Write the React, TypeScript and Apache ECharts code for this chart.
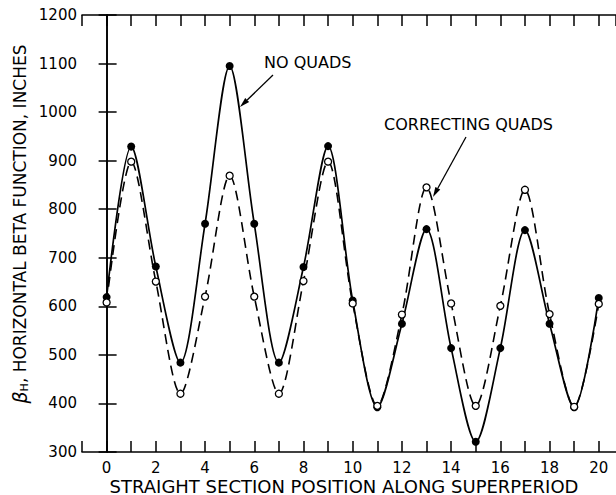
import React, { useEffect, useRef } from "react";
import * as echarts from "echarts";

const positions = [0, 1, 2, 3, 4, 5, 6, 7, 8, 9, 10, 11, 12, 13, 14, 15, 16, 17, 18, 19, 20];
const noQuads = [619, 929, 682, 484, 770, 1095, 770, 484, 681, 930, 612, 392, 564, 759, 514, 321, 514, 757, 564, 392, 617];
const correctingQuads = [608, 898, 651, 420, 620, 869, 620, 420, 652, 898, 606, 395, 583, 845, 606, 395, 601, 840, 584, 393, 605];
const yTicks = { min: 300, max: 1200, step: 100 };
const xLabelsEvery = 2;

const FONT = "DejaVu Sans";

function arrow(x1: number, y1: number, x2: number, y2: number) {
  const dx = x2 - x1;
  const dy = y2 - y1;
  const len = Math.sqrt(dx * dx + dy * dy);
  const ux = dx / len;
  const uy = dy / len;
  const hl = 10;
  const hw = 2.8;
  const bx = x2 - ux * hl;
  const by = y2 - uy * hl;
  const nx = -uy;
  const ny = ux;
  return [
    {
      type: "line",
      shape: { x1, y1, x2: bx, y2: by },
      style: { stroke: "#000", lineWidth: 1.3 },
    },
    {
      type: "polygon",
      shape: {
        points: [
          [x2, y2],
          [bx + nx * hw, by + ny * hw],
          [bx - nx * hw, by - ny * hw],
        ],
      },
      style: { fill: "#000" },
    },
  ];
}

export default function App() {
  const ref = useRef<HTMLDivElement>(null);
  useEffect(() => {
    if (!ref.current) return;
    const chart = echarts.init(ref.current, null, { renderer: "svg" });
    const noQuadsData = positions.map((x, i) => [x, noQuads[i]]);
    const corrData = positions.map((x, i) => [x, correctingQuads[i]]);
    const axisLine = { show: true, lineStyle: { color: "#000", width: 1.6 } };
    chart.setOption({
      animation: false,
      backgroundColor: "#fff",
      grid: { left: 82, right: -4, top: 15, bottom: 43, containLabel: false },
      xAxis: [
        {
          type: "value",
          position: "bottom",
          min: -1,
          max: 20.7,
          interval: 1,
          axisLine,
          axisTick: { show: true, inside: true, length: 11, lineStyle: { color: "#000", width: 1.5 } },
          axisLabel: {
            margin: 8,
            color: "#000",
            fontFamily: FONT,
            fontSize: 15,
            showMaxLabel: false,
            formatter: (v: number) => (v >= 0 && v % xLabelsEvery === 0 ? String(v) : ""),
          },
          splitLine: { show: false },
        },
        {
          type: "value",
          position: "top",
          min: -1,
          max: 20.7,
          interval: 1,
          axisLine,
          axisTick: { show: true, inside: true, length: 11, lineStyle: { color: "#000", width: 1.5 } },
          axisLabel: { show: false },
          splitLine: { show: false },
        },
      ],
      yAxis: [
        {
          type: "value",
          position: "left",
          min: yTicks.min,
          max: yTicks.max,
          interval: yTicks.step,
          axisLine,
          axisTick: { show: true, inside: true, length: 10, lineStyle: { color: "#000", width: 1.5 } },
          axisLabel: {
            margin: 5,
            color: "#000",
            fontFamily: FONT,
            fontSize: 15,
            formatter: (v: number) => String(v),
          },
          splitLine: { show: false },
        },
        {
          type: "value",
          position: "right",
          min: yTicks.min,
          max: yTicks.max,
          interval: yTicks.step,
          axisLine,
          axisTick: { show: true, inside: true, length: 8, lineStyle: { color: "#000", width: 1.5 } },
          axisLabel: { show: false },
          splitLine: { show: false },
        },
      ],
      series: [
        {
          name: "NO QUADS",
          type: "line",
          data: noQuadsData,
          smooth: 0.3,
          symbol: "circle",
          symbolSize: 8,
          itemStyle: { color: "#000", borderColor: "#000", borderWidth: 0 },
          lineStyle: { color: "#000", width: 1.7, type: "solid" },
          z: 3,
        },
        {
          name: "CORRECTING QUADS",
          type: "line",
          data: corrData,
          smooth: 0.3,
          symbol: "circle",
          symbolSize: 7,
          itemStyle: { color: "#fff", borderColor: "#000", borderWidth: 1.3 },
          lineStyle: { color: "#000", width: 1.6, type: [10, 6] },
          z: 4,
        },
      ],
      graphic: [
        {
          type: "text",
          left: 264,
          top: 54,
          style: { text: "NO QUADS", fill: "#000", font: `16px "${FONT}"` },
        },
        {
          type: "text",
          left: 384,
          top: 116,
          style: { text: "CORRECTING QUADS", fill: "#000", font: `16px "${FONT}"` },
        },
        ...arrow(273, 75, 240, 107),
        ...arrow(466, 137, 433, 197),
        {
          type: "text",
          x: 344,
          y: 486,
          style: {
            text: "STRAIGHT SECTION POSITION ALONG SUPERPERIOD",
            fill: "#000",
            font: `18px "${FONT}"`,
            align: "center",
            verticalAlign: "middle",
          },
        },
        {
          type: "text",
          x: 20,
          y: 224,
          rotation: Math.PI / 2,
          style: {
            text: "{b|β}{s|H}{n|, HORIZONTAL BETA FUNCTION, INCHES}",
            fill: "#000",
            align: "center",
            verticalAlign: "middle",
            rich: {
              b: { fontFamily: FONT, fontSize: 19, fill: "#000", fontStyle: "italic" },
              s: { fontFamily: FONT, fontSize: 11, fill: "#000", verticalAlign: "bottom", padding: [9, 0, 0, 0] },
              n: { fontFamily: FONT, fontSize: 17, fill: "#000" },
            },
          },
        },
      ],
    });
    return () => chart.dispose();
  }, []);
  return (
    <div
      ref={ref}
      style={{ position: "absolute", left: 0, top: 0, width: 616, height: 495, background: "#fff" }}
    />
  );
}
